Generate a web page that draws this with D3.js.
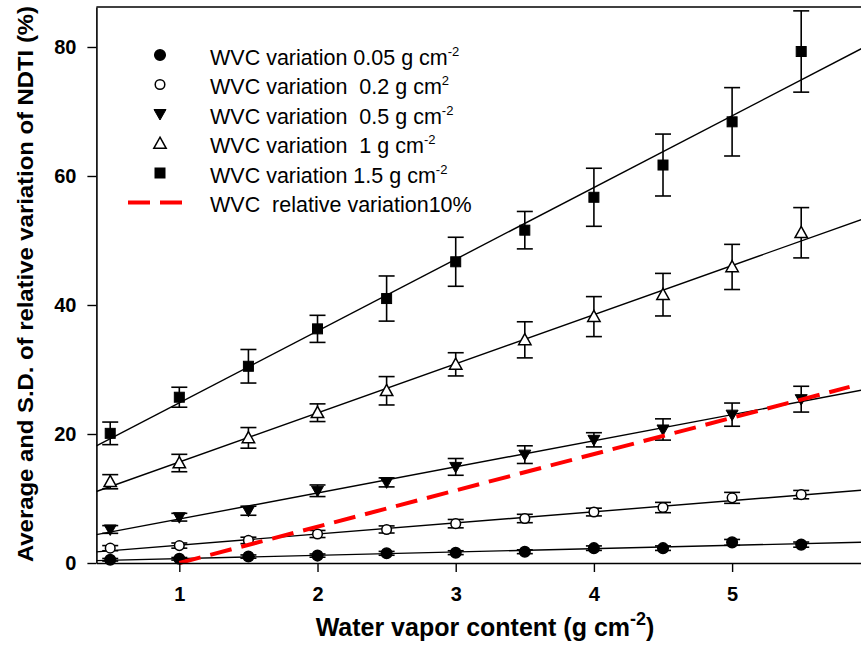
<!DOCTYPE html>
<html>
<head>
<meta charset="utf-8">
<script src="https://cdn.jsdelivr.net/npm/d3@7"></script>
<style>
  html, body { margin: 0; padding: 0; background: #fff; }
  svg { display: block; font-family: "Liberation Sans", Arial, sans-serif; }
  text { white-space: pre; }
</style>
</head>
<body>
<svg id="chart" width="861" height="648"></svg>
<script>
// Water vapor content sampling points (g cm-2)
const wvc = [0.5, 1, 1.5, 2, 2.5, 3, 3.5, 4, 4.5, 5, 5.5];

// Mean relative variation of NDTI (%) and standard deviation for each WVC perturbation
const mean005 = [0.5, 0.65, 1.0, 1.15, 1.5, 1.6, 1.75, 2.3, 2.3, 3.2, 2.85];
const sd005   = [0.2, 0.2, 0.25, 0.25, 0.3, 0.3, 0.3, 0.35, 0.35, 0.45, 0.4];

const mean02 = [2.3, 2.7, 3.5, 4.5, 5.2, 6.1, 6.9, 7.9, 8.6, 10.1, 10.6];
const sd02   = [0.4, 0.4, 0.5, 0.55, 0.55, 0.65, 0.65, 0.6, 0.8, 0.85, 0.65];

const mean05 = [5.2, 7.1, 8.1, 11.2, 12.5, 14.9, 16.8, 19.1, 20.7, 23.0, 25.4];
const sd05   = [0.6, 0.6, 0.7, 0.9, 0.7, 1.3, 1.37, 1.1, 1.65, 1.8, 2.0];

const mean1 = [12.6, 15.5, 19.4, 23.3, 26.7, 30.8, 34.6, 38.2, 41.6, 45.9, 51.2];
const sd1   = [1.1, 1.35, 1.6, 1.37, 2.2, 1.8, 2.8, 3.1, 3.3, 3.5, 3.9];

const mean15 = [20.1, 25.7, 30.5, 36.3, 41.0, 46.7, 51.6, 56.7, 61.7, 68.4, 79.3];
const sd15   = [1.75, 1.55, 2.6, 2.1, 3.5, 3.8, 2.9, 4.5, 4.8, 5.3, 6.3];

// 10% relative WVC variation reference line
const relX = [1, 5.85];
const relY = [0, 27.3];

// Axis ticks
const xTicks = [1, 2, 3, 4, 5];
const yTicks = [0, 20, 40, 60, 80];

// Legend labels: [main text, superscript]
const legendLabels = [
  ["WVC variation 0.05 g cm", "-2"],
  ["WVC variation  0.2 g cm", "2"],
  ["WVC variation  0.5 g cm", "-2"],
  ["WVC variation  1 g cm", "-2"],
  ["WVC variation 1.5 g cm", "-2"],
  ["WVC  relative variation10%", ""]
];

const series = [
  { mean: mean005, sd: sd005, shape: "circle", fill: "#000" },
  { mean: mean02,  sd: sd02,  shape: "circle", fill: "#fff" },
  { mean: mean05,  sd: sd05,  shape: "down",   fill: "#000" },
  { mean: mean1,   sd: sd1,   shape: "up",     fill: "#fff" },
  { mean: mean15,  sd: sd15,  shape: "square", fill: "#000" }
];

const svg = d3.select("#chart");
const plotLeft = 96.4, plotRight = 870.3, plotTop = 7, plotBottom = 563;

const x = d3.scaleLinear().domain([0.4, 6]).range([plotLeft, plotRight]);
const y = d3.scaleLinear().domain([0, 86.2]).range([plotBottom, plotTop]);

svg.append("defs").append("clipPath").attr("id", "plotClip")
  .append("rect").attr("x", plotLeft).attr("y", plotTop)
  .attr("width", plotRight - plotLeft).attr("height", plotBottom - plotTop);

// Least-squares fit for each series
function fit(xs, ys) {
  const mx = d3.mean(xs), my = d3.mean(ys);
  let sxy = 0, sxx = 0;
  xs.forEach((v, i) => { sxy += (v - mx) * (ys[i] - my); sxx += (v - mx) * (v - mx); });
  const b = sxy / sxx;
  return { b, a: my - b * mx };
}

const plot = svg.append("g");
const lineGen = d3.line().x(d => x(d[0])).y(d => y(d[1]));

// Regression lines
series.forEach(s => {
  const f = fit(wvc, s.mean);
  const ends = [0.4, 6].map(v => [v, f.a + f.b * v]);
  plot.append("path").attr("d", lineGen(ends))
    .attr("clip-path", "url(#plotClip)")
    .attr("fill", "none").attr("stroke", "#000").attr("stroke-width", 1.4);
});

// Error bars
series.forEach(s => {
  const g = plot.append("g").attr("stroke", "#000").attr("stroke-width", 1.6).attr("fill", "none");
  wvc.forEach((v, i) => {
    const cx = x(v), y1 = y(s.mean[i] + s.sd[i]), y2 = y(s.mean[i] - s.sd[i]);
    g.append("line").attr("x1", cx).attr("x2", cx).attr("y1", y1).attr("y2", y2);
    g.append("line").attr("x1", cx - 8).attr("x2", cx + 8).attr("y1", y1).attr("y2", y1);
    g.append("line").attr("x1", cx - 8).attr("x2", cx + 8).attr("y1", y2).attr("y2", y2);
  });
});

function drawMarker(g, shape, fill, cx, cy) {
  const stroke = "#000", sw = 1.5;
  if (shape === "circle") {
    g.append("circle").attr("cx", cx).attr("cy", cy).attr("r", fill === "#000" ? 5.3 : 4.8)
      .attr("fill", fill).attr("stroke", stroke).attr("stroke-width", sw);
  } else if (shape === "square") {
    g.append("rect").attr("x", cx - 5).attr("y", cy - 5).attr("width", 10).attr("height", 10)
      .attr("fill", fill).attr("stroke", stroke).attr("stroke-width", 1);
  } else if (shape === "down") {
    g.append("path").attr("d", `M${cx - 6},${cy - 4.5}L${cx + 6},${cy - 4.5}L${cx},${cy + 6}Z`)
      .attr("fill", fill).attr("stroke", stroke).attr("stroke-width", 1);
  } else if (shape === "up") {
    g.append("path").attr("d", `M${cx},${cy - 6.3}L${cx + 6.2},${cy + 4.8}L${cx - 6.2},${cy + 4.8}Z`)
      .attr("fill", fill).attr("stroke", stroke).attr("stroke-width", sw);
  }
}

// Markers
series.forEach(s => {
  const g = plot.append("g");
  wvc.forEach((v, i) => drawMarker(g, s.shape, s.fill, x(v), y(s.mean[i])));
});

// Reference dashed line
plot.append("path")
  .attr("d", lineGen(relX.map((v, i) => [v, relY[i]])))
  .attr("fill", "none").attr("stroke", "#ff0000").attr("stroke-width", 4)
  .attr("stroke-dasharray", "22,10");

// Axes
const axisColor = "#000";
const yAxis = svg.append("g").attr("transform", `translate(${plotLeft},0)`)
  .call(d3.axisLeft(y).tickValues(yTicks).tickFormat(d3.format("d"))
    .tickSize(9).tickSizeOuter(0).tickPadding(11));
const xAxis = svg.append("g").attr("transform", `translate(0,${plotBottom})`)
  .call(d3.axisBottom(x).tickValues(xTicks).tickFormat(d3.format("d"))
    .tickSize(9).tickSizeOuter(0));

[yAxis, xAxis].forEach(a => {
  a.select(".domain").attr("stroke", axisColor).attr("stroke-width", 1.6);
  a.selectAll(".tick line").attr("stroke", axisColor).attr("stroke-width", 1.4);
  a.selectAll(".tick text").attr("fill", "#000")
    .style("font-family", "'Liberation Sans', Arial, sans-serif")
    .style("font-weight", "bold").style("font-size", "20px");
});
xAxis.selectAll(".tick text").attr("y", 38).attr("dy", null);

// Top frame line
svg.append("line").attr("x1", plotLeft).attr("x2", 861).attr("y1", plotTop).attr("y2", plotTop)
  .attr("stroke", "#000").attr("stroke-width", 1.6);

// Axis titles
svg.append("text")
  .attr("transform", `translate(33,284) rotate(-90)`)
  .attr("text-anchor", "middle")
  .attr("textLength", 556).attr("lengthAdjust", "spacingAndGlyphs")
  .style("font-weight", "bold").style("font-size", "22px")
  .text("Average and S.D. of relative variation of NDTI (%)");

const xt = svg.append("text")
  .attr("x", 485).attr("y", 636).attr("text-anchor", "middle")
  .style("font-weight", "bold").style("font-size", "25px");
xt.append("tspan").text("Water vapor content (g cm");
xt.append("tspan").attr("dy", -11).style("font-size", "18px").text("-2");
xt.append("tspan").attr("dy", 11).text(")");

// Legend
const legend = svg.append("g");
const legendShapes = series.map(s => [s.shape, s.fill]);
legendLabels.forEach((lab, i) => {
  const ly = 55 + i * 29.5;
  if (i < legendShapes.length) {
    drawMarker(legend, legendShapes[i][0], legendShapes[i][1], 160, ly);
  } else {
    legend.append("line").attr("x1", 128).attr("x2", 182).attr("y1", ly).attr("y2", ly)
      .attr("stroke", "#ff0000").attr("stroke-width", 4).attr("stroke-dasharray", "22,10");
  }
  const t = legend.append("text").attr("x", 210).attr("y", ly + 9.5)
    .style("font-size", "21.5px").attr("fill", "#000");
  t.append("tspan").text(lab[0]);
  if (lab[1]) {
    t.append("tspan").attr("dy", -9).style("font-size", "13px").text(lab[1]);
  }
});
</script>
</body>
</html>
